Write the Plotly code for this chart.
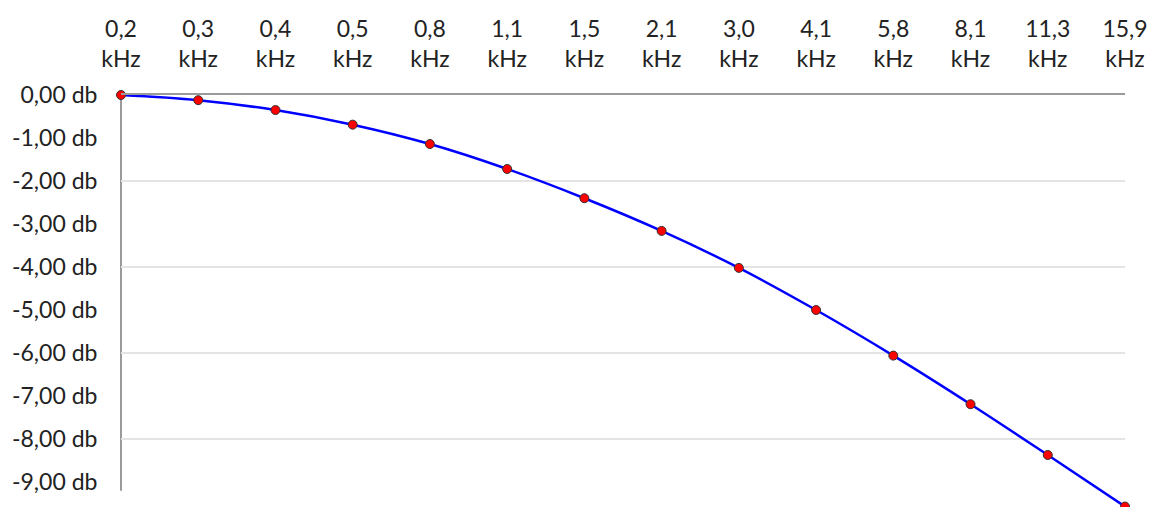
import plotly.graph_objects as go

freq_labels = ["0,2", "0,3", "0,4", "0,5", "0,8", "1,1", "1,5", "2,1", "3,0", "4,1", "5,8", "8,1", "11,3", "15,9"]
unit = "kHz"
gain_db = [0.00, -0.12, -0.35, -0.69, -1.14, -1.72, -2.40, -3.16, -4.02, -5.00, -6.06, -7.19, -8.37, -9.57]
y_tick_vals = [0, -1, -2, -3, -4, -5, -6, -7, -8, -9]
y_tick_text = ["0,00 db", "-1,00 db", "-2,00 db", "-3,00 db", "-4,00 db", "-5,00 db",
               "-6,00 db", "-7,00 db", "-8,00 db", "-9,00 db"]
grid_vals = [-2, -4, -6, -8]

FONT = "Lato"
FS = 23
x_idx = list(range(len(freq_labels)))

fig = go.Figure()
fig.add_trace(go.Scatter(
    x=x_idx, y=gain_db, mode="lines+markers",
    line=dict(color="#0000ff", width=2.5, shape="spline"),
    marker=dict(color="#ff0000", size=9, line=dict(color="#333333", width=1)),
    cliponaxis=False, showlegend=False, hoverinfo="skip",
))

fig.update_layout(
    width=1156, height=507,
    margin=dict(l=121, r=31, t=95, b=0, autoexpand=False),
    paper_bgcolor="white", plot_bgcolor="white",
    font=dict(family=FONT, size=FS, color="#222222"),
    xaxis=dict(
        side="top", range=[0, len(freq_labels) - 1], automargin=False,
        tickvals=x_idx, ticktext=[f"{f}<br>{unit}" for f in freq_labels],
        showgrid=False, zeroline=False,
        showline=True, linecolor="#9a9a9a", linewidth=2,
        ticks="outside", ticklen=17, tickcolor="rgba(0,0,0,0)",
        tickfont=dict(family=FONT, size=FS, color="#222222"),
    ),
    yaxis=dict(
        range=[-9.58, 0], automargin=False,
        tickvals=grid_vals, showticklabels=False,
        showgrid=True, gridcolor="#e4e4e4", gridwidth=1.5,
        zeroline=False, showline=False, ticks="",
    ),
    yaxis2=dict(
        overlaying="y", matches="y", side="left", anchor="x", automargin=False,
        tickvals=y_tick_vals, ticktext=y_tick_text,
        showgrid=False, zeroline=False, showline=False,
        ticks="outside", ticklen=18, tickcolor="rgba(0,0,0,0)",
        tickfont=dict(family=FONT, size=FS, color="#222222"),
    ),
)
# invisible trace to activate yaxis2
fig.add_trace(go.Scatter(x=[x_idx[0]], y=[gain_db[0]], yaxis="y2", mode="markers",
                         marker=dict(opacity=0), showlegend=False, hoverinfo="skip"))
# left axis line ending short of the bottom, as in the reference
fig.add_shape(type="line", xref="paper", yref="y", x0=0, x1=0, y0=0, y1=-9.2,
              line=dict(color="#9a9a9a", width=2), layer="below")

fig.write_html("out.html", config={"displayModeBar": False},
               post_script="document.body.style.margin='0';document.body.style.overflow='hidden';")
